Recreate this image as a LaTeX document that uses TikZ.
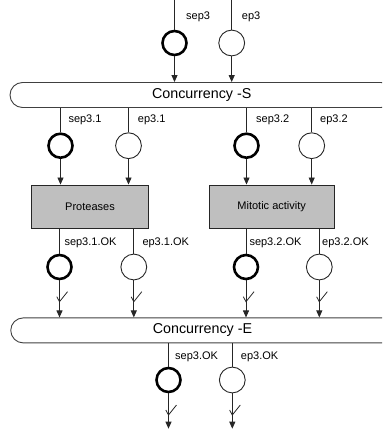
\documentclass[tikz,border=0pt]{standalone}
\usepackage{fontspec}
\setmainfont{Liberation Sans}
\usetikzlibrary{arrows.meta}
\begin{document}
\begin{tikzpicture}[x=1pt,y=-1pt,
  thinline/.style={line width=0.9pt, draw=black!85},
  arr/.style={thinline,-{Triangle[width=6pt,length=7pt]}},
  thickc/.style={circle,draw=black,line width=2.6pt,minimum size=24pt,inner sep=0pt},
  thinc/.style={circle,draw=black!85,line width=0.9pt,minimum size=25.8pt,inner sep=0pt},
  bar/.style={draw=black!75,line width=0.9pt,rounded corners=12.5pt,minimum width=383.5pt,minimum height=25pt,inner sep=0pt,font=\fontsize{14.3}{16}\selectfont},
  proc/.style={draw=black!85,line width=0.9pt,fill=black!25,inner sep=0pt,font=\fontsize{11}{13}\selectfont},
  lab/.style={anchor=west,inner sep=0pt,font=\fontsize{11}{13}\selectfont},
  tickmark/.pic={\draw[line width=0.8pt,draw=black!85] (-2.7,-5) -- (0,0) -- (8,-10);}
]
\clip (0,0) rectangle (382,430);
% top
\coordinate (t1) at (174.5,0);
\coordinate (t2) at (231.7,0);
\node[thickc] (cs3) at (174.5,43) {};
\node[thinc] (ce3) at (231.7,43) {};
\node[lab] (ls3) at (186,17) {sep3};
\node[lab] (le3) at (241.7,17) {ep3};
\node[bar] (barS) at (201.75,95) {Concurrency -S};
\draw[thinline] (t1) -- (cs3.north);
\draw[thinline] (t2) -- (ce3.north);
\draw[arr] (cs3.south) -- (cs3.south |- barS.north);
\draw[arr] (ce3.south) -- (ce3.south |- barS.north);
% middle upper
\node[thickc] (cs31) at (60.5,145.7) {};
\node[thinc] (ce31) at (128.5,145.7) {};
\node[thickc] (cs32) at (246.5,145.7) {};
\node[thinc] (ce32) at (311.7,145.7) {};
\node[lab] (ls31) at (68.3,120) {sep3.1};
\node[lab] (le31) at (137.7,120) {ep3.1};
\node[lab] (ls32) at (256,120) {sep3.2};
\node[lab] (le32) at (320,120) {ep3.2};
\node[proc,minimum width=116.6pt,minimum height=43pt] (boxP) at (90,206.5) {Proteases};
\node[proc,minimum width=125.3pt,minimum height=43pt] (boxM) at (271.65,206.5) {Mitotic activity};
\foreach \c/\b in {cs31/boxP,ce31/boxP,cs32/boxM,ce32/boxM}{
  \draw[thinline] (\c.north |- barS.south) -- (\c.north);
  \draw[arr] (\c.south) -- (\c.south |- \b.north);
}
% middle lower
\node[thickc] (cs31ok) at (59.5,267) {};
\node[thinc] (ce31ok) at (133.8,267) {};
\node[thickc] (cs32ok) at (246,267) {};
\node[thinc] (ce32ok) at (319.3,267) {};
\node[lab] (ls31ok) at (64.3,243) {sep3.1.OK};
\node[lab] (le31ok) at (142.3,243) {ep3.1.OK};
\node[lab] (ls32ok) at (249.3,243) {sep3.2.OK};
\node[lab] (le32ok) at (322,243) {ep3.2.OK};
\node[bar] (barE) at (202.5,330.4) {Concurrency -E};
\foreach \c/\b in {cs31ok/boxP,ce31ok/boxP,cs32ok/boxM,ce32ok/boxM}{
  \draw[thinline] (\c.north |- \b.south) -- (\c.north);
  \draw[arr] (\c.south) -- (\c.south |- barE.north);
  \pic at (\c |- 0,301.7) {tickmark};
}
% bottom
\node[thickc] (cs3ok) at (168.5,380) {};
\node[thinc] (ce3ok) at (232.3,380) {};
\node[lab] (ls3ok) at (175,356.7) {sep3.OK};
\node[lab] (le3ok) at (240.7,356.7) {ep3.OK};
\coordinate (b1) at (168.5,428.7);
\coordinate (b2) at (232.3,428.7);
\foreach \c/\e in {cs3ok/b1,ce3ok/b2}{
  \draw[thinline] (\c.north |- barE.south) -- (\c.north);
  \draw[arr] (\c.south) -- (\e);
  \pic at (\c |- 0,415) {tickmark};
}
\end{tikzpicture}
\end{document}
